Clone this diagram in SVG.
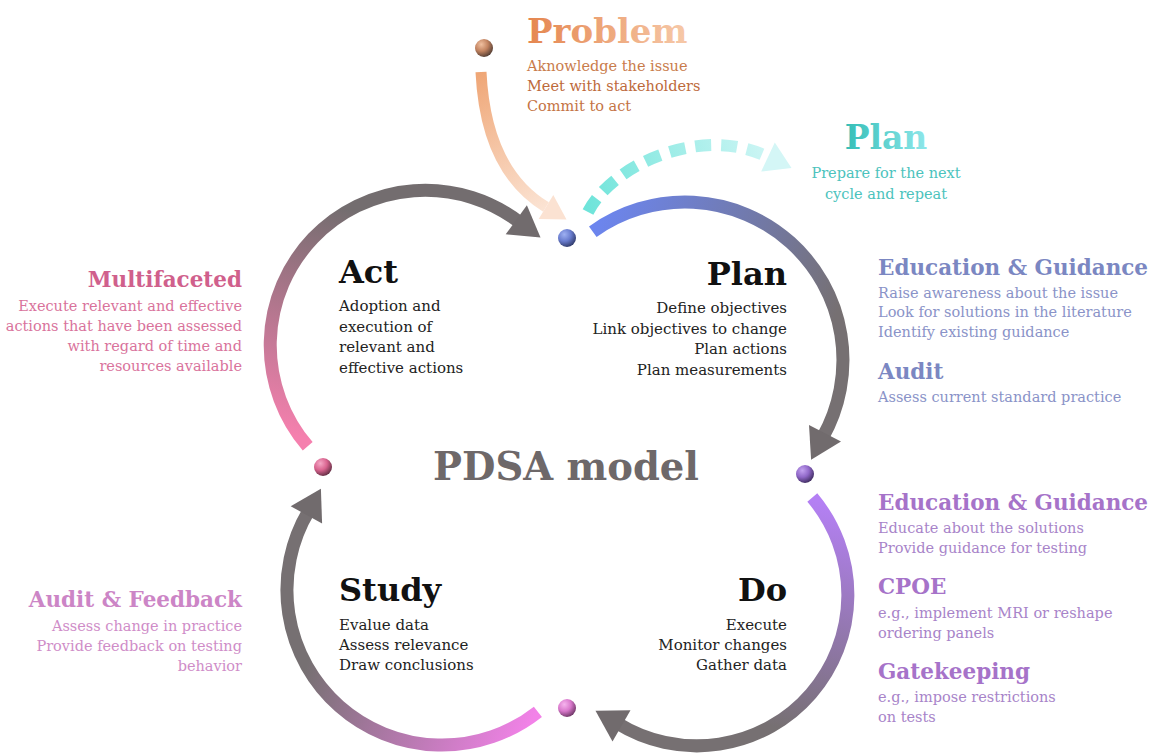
<svg xmlns="http://www.w3.org/2000/svg" width="1149" height="755" viewBox="0 0 1149 755">
<style>
text{font-family:"DejaVu Serif","Liberation Serif",serif}
.h{font-weight:bold;font-size:32px;fill:#111}
.b{font-size:15px;fill:#222}
.s{font-size:14.5px}
.st{font-weight:bold;font-size:21.5px}
.arc{fill:none;stroke-width:13;stroke-linecap:butt}
.ah{fill:#716b6d}
</style>
<defs>
<linearGradient id="gProbT" gradientUnits="userSpaceOnUse" x1="527" y1="0" x2="683" y2="0"><stop offset="0" stop-color="#e5864f"/><stop offset="1" stop-color="#f6c7a6"/></linearGradient>
<linearGradient id="gPlanT" gradientUnits="userSpaceOnUse" x1="846" y1="0" x2="927" y2="0"><stop offset="0" stop-color="#36bfb8"/><stop offset="1" stop-color="#8ee7ea"/></linearGradient>
<linearGradient id="gProbA" gradientUnits="userSpaceOnUse" x1="481" y1="72" x2="546" y2="207"><stop offset="0" stop-color="#efa676"/><stop offset="1" stop-color="#fbe3d3"/></linearGradient>
<linearGradient id="gTeal" gradientUnits="userSpaceOnUse" x1="588" y1="212" x2="790" y2="160"><stop offset="0" stop-color="#6fe4da"/><stop offset="1" stop-color="#d6f7f7"/></linearGradient>
<linearGradient id="gAct" gradientUnits="userSpaceOnUse" x1="310" y1="440" x2="370" y2="215"><stop offset="0" stop-color="#f580ae"/><stop offset="1" stop-color="#736d6f"/></linearGradient>
<linearGradient id="gPlan" gradientUnits="userSpaceOnUse" x1="595" y1="230" x2="830" y2="330"><stop offset="0" stop-color="#6c85ee"/><stop offset="1" stop-color="#767072"/></linearGradient>
<linearGradient id="gDo" gradientUnits="userSpaceOnUse" x1="815" y1="500" x2="765" y2="725"><stop offset="0" stop-color="#b480f4"/><stop offset="1" stop-color="#767072"/></linearGradient>
<linearGradient id="gStudy" gradientUnits="userSpaceOnUse" x1="535" y1="715" x2="320" y2="630"><stop offset="0" stop-color="#f282e8"/><stop offset="1" stop-color="#767072"/></linearGradient>
<radialGradient id="dTop" cx="0.35" cy="0.3" r="0.75"><stop offset="0" stop-color="#9eb0f2"/><stop offset="0.5" stop-color="#6a7dcf"/><stop offset="1" stop-color="#2e3866"/></radialGradient>
<radialGradient id="dRight" cx="0.35" cy="0.3" r="0.75"><stop offset="0" stop-color="#c3a2f0"/><stop offset="0.5" stop-color="#9068c8"/><stop offset="1" stop-color="#3c2a5c"/></radialGradient>
<radialGradient id="dBottom" cx="0.35" cy="0.3" r="0.75"><stop offset="0" stop-color="#f6b4ee"/><stop offset="0.5" stop-color="#d979cc"/><stop offset="1" stop-color="#6a3462"/></radialGradient>
<radialGradient id="dLeft" cx="0.35" cy="0.3" r="0.75"><stop offset="0" stop-color="#f5a8c6"/><stop offset="0.5" stop-color="#d9648f"/><stop offset="1" stop-color="#5e2c40"/></radialGradient>
<radialGradient id="dProb" cx="0.35" cy="0.3" r="0.75"><stop offset="0" stop-color="#f0c0a0"/><stop offset="0.5" stop-color="#c28360"/><stop offset="1" stop-color="#4e3a32"/></radialGradient>
</defs>
<rect width="1149" height="755" fill="#fff"/>

<g id="connectors">
  <path class="arc" stroke="url(#gAct)" d="M 307.7 446.3 A 155 155 0 0 1 520.4 222.9"/>
  <polygon class="ah" points="526.9,205.3 540.5,237.5 505.7,234.3"/>
  <path class="arc" stroke="url(#gPlan)" d="M 592.8 231.7 A 158 158 0 0 1 822.5 437.8"/>
  <polygon class="ah" points="841,441.5 811.1,459.8 809,424.9"/>
  <path class="arc" stroke="url(#gDo)" d="M 812.3 497.5 A 151 151 0 0 1 617 723"/>
  <polygon class="ah" points="612.5,741.4 595.5,710.8 630.5,710.2"/>
  <path class="arc" stroke="url(#gStudy)" d="M 537.9 711.8 A 155 155 0 0 1 309.1 510.2"/>
  <polygon class="ah" points="290.7,506.2 320.9,488.7 322.1,523.6"/>
  <path fill="none" stroke="url(#gProbA)" stroke-width="11" d="M 481 72 C 484 135, 505 182, 546 207"/>
  <polygon fill="#fbe2d2" points="538.7,219 566.5,219.5 553.3,195"/>
  <path fill="none" stroke="url(#gTeal)" stroke-width="12" stroke-dasharray="16 10" d="M 588 212 C 612 165, 700 125, 766 156"/>
  <polygon fill="#d4f6f6" points="761.2,171.5 791.5,168.1 774.8,142.5"/>
</g>

<g id="dots">
  <circle cx="567" cy="238" r="9" fill="url(#dTop)"/>
  <circle cx="805" cy="474" r="9" fill="url(#dRight)"/>
  <circle cx="567" cy="708" r="9" fill="url(#dBottom)"/>
  <circle cx="323" cy="467" r="9" fill="url(#dLeft)"/>
  <circle cx="484" cy="48" r="9" fill="url(#dProb)"/>
</g>

<g id="title"><text x="566" y="480" text-anchor="middle" font-weight="bold" font-size="38.5" fill="#6e6869">PDSA model</text></g>

<g id="act">
  <text class="h" x="339" y="283">Act</text>
  <text class="b" x="339" y="311">Adoption and</text>
  <text class="b" x="339" y="332">execution of</text>
  <text class="b" x="339" y="352">relevant and</text>
  <text class="b" x="339" y="373">effective actions</text>
</g>
<g id="plan" text-anchor="end">
  <text class="h" x="787" y="285">Plan</text>
  <text class="b" x="787" y="313">Define objectives</text>
  <text class="b" x="787" y="334">Link objectives to change</text>
  <text class="b" x="787" y="354">Plan actions</text>
  <text class="b" x="787" y="375">Plan measurements</text>
</g>
<g id="study">
  <text class="h" x="339" y="601">Study</text>
  <text class="b" x="339" y="630">Evalue data</text>
  <text class="b" x="339" y="650">Assess relevance</text>
  <text class="b" x="339" y="670">Draw conclusions</text>
</g>
<g id="do" text-anchor="end">
  <text class="h" x="787" y="601">Do</text>
  <text class="b" x="787" y="630">Execute</text>
  <text class="b" x="787" y="650">Monitor changes</text>
  <text class="b" x="787" y="670">Gather data</text>
</g>

<g id="problem">
  <text x="527" y="43" font-weight="bold" font-size="34" fill="url(#gProbT)">Problem</text>
  <text class="s" x="527" y="71" fill="#c97c4c">Aknowledge the issue</text>
  <text class="s" x="527" y="91" fill="#bd6a3b">Meet with stakeholders</text>
  <text class="s" x="527" y="111" fill="#c47344">Commit to act</text>
</g>
<g id="plan-next" text-anchor="middle">
  <text x="886" y="149" font-weight="bold" font-size="33" fill="url(#gPlanT)">Plan</text>
  <text class="s" x="886" y="178" fill="#4cc3bd">Prepare for the next</text>
  <text class="s" x="886" y="199" fill="#4cc3bd">cycle and repeat</text>
</g>
<g id="plan-interventions" fill="#8a93c8">
  <text class="st" x="878" y="275" fill="#7b87c2">Education &amp; Guidance</text>
  <text class="s" x="878" y="298">Raise awareness about the issue</text>
  <text class="s" x="878" y="317">Look for solutions in the literature</text>
  <text class="s" x="878" y="337">Identify existing guidance</text>
  <text class="st" x="878" y="379" fill="#7b87c2">Audit</text>
  <text class="s" x="878" y="402">Assess current standard practice</text>
</g>
<g id="do-interventions" fill="#a884c9">
  <text class="st" x="878" y="510" fill="#a673c9">Education &amp; Guidance</text>
  <text class="s" x="878" y="533">Educate about the solutions</text>
  <text class="s" x="878" y="553">Provide guidance for testing</text>
  <text class="st" x="878" y="594" fill="#a673c9">CPOE</text>
  <text class="s" x="878" y="618">e.g., implement MRI or reshape</text>
  <text class="s" x="878" y="638">ordering panels</text>
  <text class="st" x="878" y="679" fill="#a673c9">Gatekeeping</text>
  <text class="s" x="878" y="702">e.g., impose restrictions</text>
  <text class="s" x="878" y="722">on tests</text>
</g>
<g id="act-interventions" text-anchor="end" fill="#d9739c">
  <text class="st" x="242" y="287" fill="#d0608c">Multifaceted</text>
  <text class="s" x="242" y="311">Execute relevant and effective</text>
  <text class="s" x="242" y="331">actions that have been assessed</text>
  <text class="s" x="242" y="351">with regard of time and</text>
  <text class="s" x="242" y="371">resources available</text>
</g>
<g id="study-interventions" text-anchor="end" fill="#cf8dc8">
  <text class="st" x="242" y="607" fill="#cc85c6">Audit &amp; Feedback</text>
  <text class="s" x="242" y="631">Assess change in practice</text>
  <text class="s" x="242" y="651">Provide feedback on testing</text>
  <text class="s" x="242" y="671">behavior</text>
</g>
</svg>
